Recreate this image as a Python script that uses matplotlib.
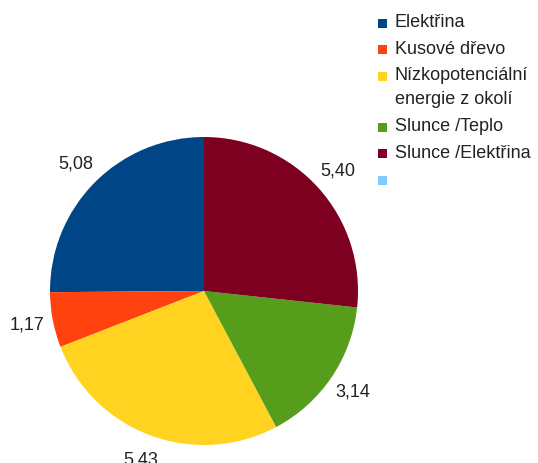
import numpy as np
import matplotlib
matplotlib.use("Agg")
import matplotlib.pyplot as plt
from matplotlib.patches import Rectangle

plt.rcParams['font.family'] = ['Liberation Sans', 'DejaVu Sans']

# data
categories = ["Elektřina", "Kusové dřevo", "Nízkopotenciální\nenergie z okolí",
              "Slunce /Teplo", "Slunce /Elektřina", ""]
values = [5.08, 1.17, 5.43, 3.14, 5.40]
colors = ["#004586", "#ff420e", "#ffd320", "#579d1c", "#7e0021", "#83caff"]

W, H = 538, 463


def px(x, y):
    # pixel (from top-left) to figure fraction
    return x / W, 1 - y / H


fig = plt.figure(figsize=(W / 100, H / 100), dpi=100)

# pie axes: centre (204, 291), radius 154 px
cx, cy, r = 204, 291, 154
x0, y0 = px(cx - r, cy + r)
ax = fig.add_axes([x0, y0, 2 * r / W, 2 * r / H])
wedges, _ = ax.pie(values, colors=colors[:len(values)], startangle=90,
                   counterclock=True, wedgeprops=dict(linewidth=0))
ax.set_xlim(-1, 1)
ax.set_ylim(-1, 1)
ax.set_aspect('auto')

for w, v in zip(wedges, values):
    ang = np.deg2rad((w.theta1 + w.theta2) / 2)
    d = 1.17
    ax.text(d * np.cos(ang), d * np.sin(ang), ("%.2f" % v).replace('.', ','),
            ha='center', va='center', fontsize=13, color='#222222',
            clip_on=False)

# legend drawn by hand
y = 23
for lab, col in zip(categories, colors):
    sq = 9
    fig.patches.append(Rectangle(px(377.5, y + sq / 2), 9.5 / W, sq / H,
                                 transform=fig.transFigure, color=col,
                                 linewidth=0))
    lines = lab.split("\n")
    ty = y - 0.5
    for ln in lines:
        fig.text(*px(395, ty), ln, ha='left', va='center', fontsize=13,
                 color='#222222')
        ty += 24
    y += 26.5 + 24.5 * (len(lines) - 1)

fig.savefig("out.png", dpi=100)
